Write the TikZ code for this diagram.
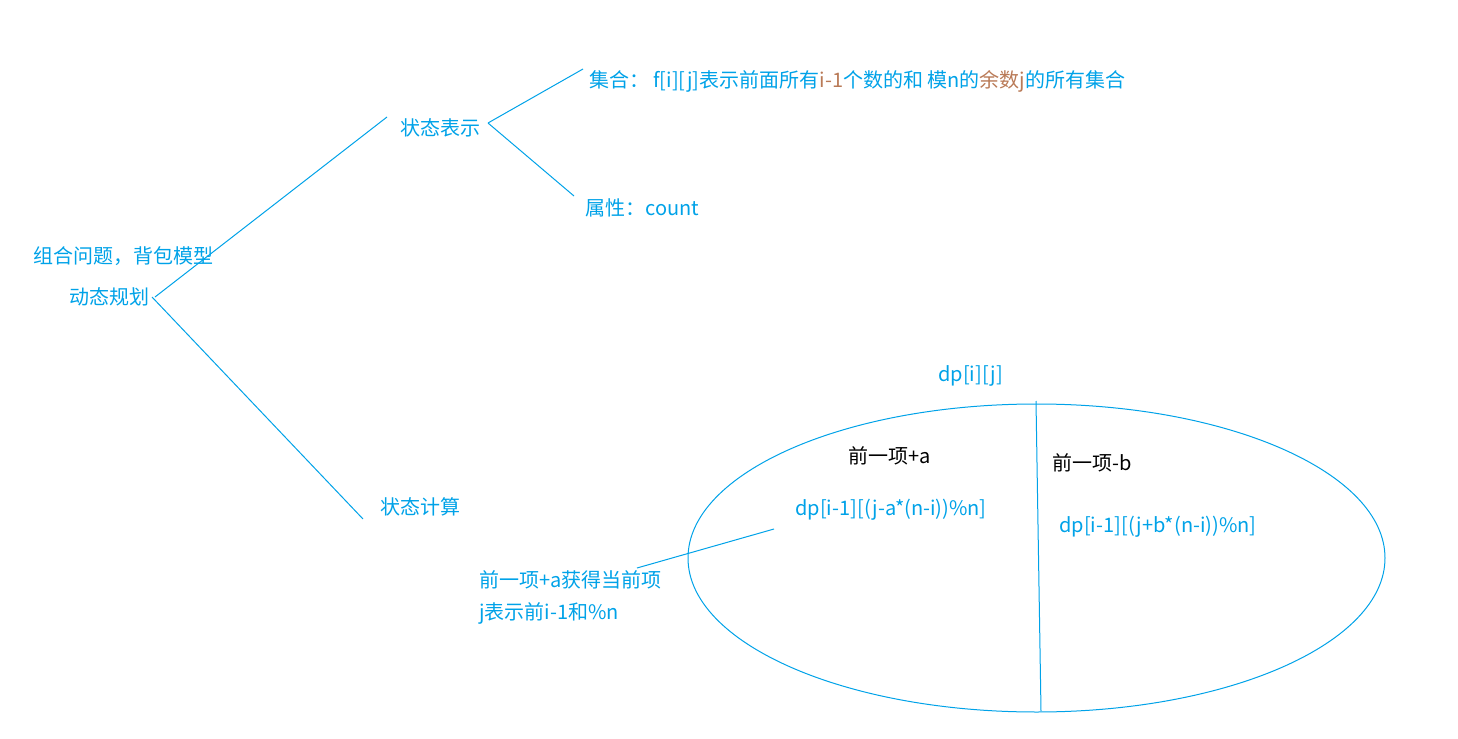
\documentclass[tikz,border=0pt]{standalone}
\usepackage{fontspec}
\newfontfamily\cjk{Noto Sans CJK SC}
\definecolor{penblue}{RGB}{0,162,232}
\definecolor{penbrown}{RGB}{185,122,87}
\tikzset{
  lbl/.style={font=\cjk\fontsize{10}{12}\selectfont, text=penblue, anchor=west, inner sep=0pt},
  blk/.style={lbl, text=black},
  pen/.style={draw=penblue, line width=0.5pt}
}
\begin{document}
\begin{tikzpicture}[x=0.5pt, y=-0.5pt]
  \useasboundingbox (0,0) rectangle (1458,739);
  % labels of the tree
  \node[lbl] (zhwt) at (33,256) {组合问题，背包模型};
  \node[lbl] (dtgh) at (69,297) {动态规划};
  \node[lbl] (ztbs) at (400,128) {状态表示};
  \node[lbl] (jihe) at (589,81) {集合：\hspace{2pt}f[i][j]表示前面所有\textcolor{penbrown}{i-1}个数的和 模n的\textcolor{penbrown}{余数j}的所有集合};
  \node[lbl] (shux) at (585,208) {属性：count};
  \node[lbl] (ztjs) at (380,507) {状态计算};
  % line ends
  \coordinate (a0) at (155,297);
  \coordinate (a1) at (387,117);
  \coordinate (a2) at (152,297);
  \coordinate (a3) at (363,519);
  \coordinate (b0) at (488,123);
  \coordinate (b1) at (583,69);
  \coordinate (b2) at (574,196);
  \draw[pen] (a0) -- (a1);
  \draw[pen] (a2) -- (a3);
  \draw[pen] (b0) -- (b1);
  \draw[pen] (b0) -- (b2);
  % the set dp[i][j]
  \node[lbl] (dpij) at (938,376) {dp[i][j]};
  \draw[pen] (1036.5,558) ellipse (348.5 and 154);
  \coordinate (c0) at (1036,401);
  \coordinate (c1) at (1041,711);
  \draw[pen] (c0) -- (c1);
  \node[blk] (qa) at (848,456) {前一项+a};
  \node[blk] (qb) at (1052,463) {前一项-b};
  \node[lbl] (dpa) at (795,510) {dp[i-1][(j-a*(n-i))\%n]};
  \node[lbl] (dpb) at (1059,527) {dp[i-1][(j+b*(n-i))\%n]};
  % note
  \node[lbl] (nt1) at (479,580) {前一项+a获得当前项};
  \node[lbl] (nt2) at (479,613) {j表示前i-1和\%n};
  \coordinate (d0) at (637,568);
  \coordinate (d1) at (774,529);
  \draw[pen] (d0) -- (d1);
\end{tikzpicture}
\end{document}
